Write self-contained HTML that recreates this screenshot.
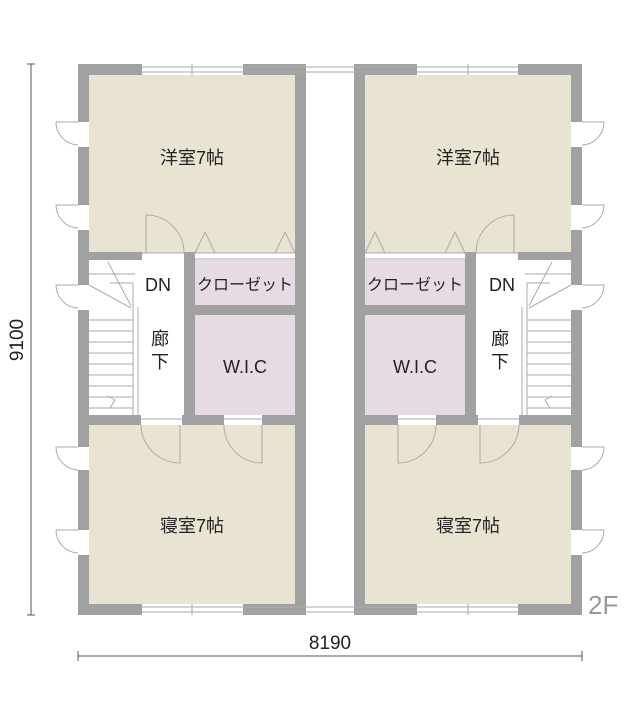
<!DOCTYPE html>
<html><head><meta charset="utf-8"><style>
html,body{margin:0;padding:0;background:#fff;}
svg{display:block;}
text{font-family:"Liberation Sans","Noto Sans CJK JP",sans-serif;fill:#222;}
</style></head><body>
<svg width="640" height="703" viewBox="0 0 640 703" xmlns="http://www.w3.org/2000/svg">
<defs>
<g id="unit">
  <rect x="89" y="75" width="206" height="178" fill="#e9e3d1"/>
  <rect x="89" y="425" width="206" height="179" fill="#e9e3d1"/>
  <rect x="195" y="260" width="100" height="45" fill="#e6dbe4"/>
  <rect x="195" y="315" width="100" height="100" fill="#e6dbe4"/>
  <rect x="78" y="64" width="64" height="11" fill="#a0a1a0"/>
  <rect x="243" y="64" width="63" height="11" fill="#a0a1a0"/>
  <rect x="78" y="604" width="64" height="11" fill="#a0a1a0"/>
  <rect x="243" y="604" width="63" height="11" fill="#a0a1a0"/>
  <rect x="295" y="64" width="11" height="551" fill="#a0a1a0"/>
  <rect x="78" y="64" width="11" height="58" fill="#a0a1a0"/>
  <rect x="78" y="147" width="11" height="58" fill="#a0a1a0"/>
  <rect x="78" y="230" width="11" height="55" fill="#a0a1a0"/>
  <rect x="78" y="310" width="11" height="137" fill="#a0a1a0"/>
  <rect x="78" y="470" width="11" height="60" fill="#a0a1a0"/>
  <rect x="78" y="555" width="11" height="60" fill="#a0a1a0"/>
  <g stroke="#aaa" stroke-width="1" fill="none">
    <line x1="142" y1="67" x2="354" y2="67"/><line x1="142" y1="72" x2="354" y2="72"/>
    <line x1="192" y1="64" x2="192" y2="75"/>
    <line x1="142" y1="607" x2="354" y2="607"/><line x1="142" y1="612" x2="354" y2="612"/>
    <line x1="192" y1="604" x2="192" y2="615"/>
  </g>
  <rect x="78" y="252" width="64" height="8" fill="#a0a1a0"/>
  <rect x="184" y="252" width="11" height="173" fill="#a0a1a0"/>
  <rect x="195" y="305" width="100" height="10" fill="#a0a1a0"/>
  <rect x="78" y="415" width="63" height="10" fill="#a0a1a0"/>
  <rect x="182" y="415" width="42" height="10" fill="#a0a1a0"/>
  <rect x="262" y="415" width="44" height="10" fill="#a0a1a0"/>
  <g stroke="#aaa" stroke-width="1" fill="none">
    <line x1="142" y1="253" x2="184" y2="253"/><line x1="195" y1="253" x2="295" y2="253"/>
    <line x1="195" y1="259" x2="295" y2="259"/>
    <line x1="141" y1="419" x2="182" y2="419"/><line x1="224" y1="419" x2="262" y2="419"/>
    <path d="M146 253 V215 A38 38 0 0 1 184 253"/>
    <path d="M180 425 V463 A39 39 0 0 1 141 425"/>
    <path d="M262 425 V463 A38 38 0 0 1 224 425"/>
    <path d="M195 253 L205 232 L215 253"/>
    <path d="M275 253 L285 232 L295 253"/>
    <path d="M78 122 H56 A23 23 0 0 0 78 145"/>
    <path d="M78 205 H56 A23 23 0 0 0 78 228"/>
    <path d="M78 285 H56 A23 23 0 0 0 78 308"/>
    <path d="M78 447 H56 A23 23 0 0 0 78 470"/>
    <path d="M78 530 H56 A23 23 0 0 0 78 553"/>
    <path d="M89 274 H135 M110 283 H133 V415 M89 285 L131 308 M108 262 L131 306"/>
    <line x1="138" y1="307" x2="138" y2="415"/>
    <path d="M89 320 H133 M89 331 H133 M89 342 H133 M89 353 H133 M89 364 H133 M89 375 H133 M89 386 H133 M89 397 H133 M89 408 H133"/>
    <path d="M108 396 L115 400 L110 408"/>
  </g>
</g>
</defs>
<use href="#unit"/>
<use href="#unit" transform="translate(660,0) scale(-1,1)"/>
<g font-size="18" text-anchor="middle">
<text x="192" y="164">洋室7帖</text>
<text x="468" y="164">洋室7帖</text>
<text x="192" y="532">寝室7帖</text>
<text x="468" y="532">寝室7帖</text>
<text x="245" y="290" font-size="16">クローゼット</text>
<text x="415" y="290" font-size="16">クローゼット</text>
<text x="245" y="373">W.I.C</text>
<text x="415" y="373">W.I.C</text>
<text x="158" y="291">DN</text>
<text x="502" y="291">DN</text>
<text x="160" y="345">廊</text><text x="160" y="368">下</text>
<text x="500" y="345">廊</text><text x="500" y="368">下</text>
</g>
<g stroke="#555" stroke-width="1">
<line x1="31" y1="64" x2="31" y2="615"/><line x1="27" y1="64" x2="35" y2="64"/><line x1="27" y1="615" x2="35" y2="615"/>
<line x1="78" y1="656" x2="582" y2="656"/><line x1="78" y1="651" x2="78" y2="661"/><line x1="582" y1="651" x2="582" y2="661"/>
</g>
<text x="330" y="649" font-size="19" text-anchor="middle">8190</text>
<text transform="translate(23,340) rotate(-90)" font-size="19" text-anchor="middle">9100</text>
<text x="588" y="614" font-size="26" style="fill:#999">2F</text>
</svg>
</body></html>
